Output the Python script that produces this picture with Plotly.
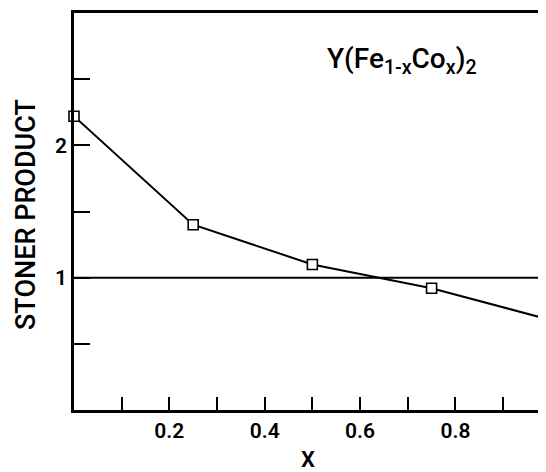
import plotly.graph_objects as go

x_vals = [0.0, 0.25, 0.5, 0.75, 1.0]
stoner = [2.22, 1.40, 1.10, 0.92, 0.68]
ref_level = [1.0, 1.0]
ref_x = [0.0, 1.0]
x_tickvals = [0.1, 0.2, 0.3, 0.4, 0.5, 0.6, 0.7, 0.8, 0.9]
x_ticktext = ["", "0.2", "", "0.4", "", "0.6", "", "0.8", ""]
y_tickvals = [0.5, 1, 1.5, 2, 2.5]
y_ticktext = ["", "1", "", "2", ""]

font_fam = "Roboto, DejaVu Sans, sans-serif"

# plot area in page pixels (page body adds an 8px offset)
PL, PT, PR, PB = 74, 13, 546, 410
PW, PH = PR - PL, PB - PT

fig = go.Figure()
fig.add_trace(go.Scatter(x=ref_x, y=ref_level, mode="lines",
                         line=dict(color="black", width=2), showlegend=False,
                         hoverinfo="skip"))
fig.add_trace(go.Scatter(x=x_vals, y=stoner, mode="lines+markers",
                         line=dict(color="black", width=2),
                         marker=dict(symbol="square", size=10, color="white",
                                     line=dict(color="black", width=1.6)),
                         cliponaxis=False, showlegend=False))


def px(xp):
    return (xp - PL) / PW


def py(yp):
    return 1 - (yp - PT) / PH


fig.update_layout(
    width=538, height=464,
    margin=dict(l=PL - 8, r=0, t=PT - 8, b=472 - PB, autoexpand=False),
    paper_bgcolor="white", plot_bgcolor="white",
    font=dict(family=font_fam, color="black"),
    xaxis=dict(range=[0, 0.99], showgrid=False, zeroline=False, automargin=False,
               showline=True, linecolor="black", linewidth=2.5, mirror=True,
               ticks="inside", ticklen=13, tickwidth=2, tickcolor="black",
               tickvals=x_tickvals, ticktext=x_ticktext,
               tickfont=dict(size=21, weight=600)),
    yaxis=dict(range=[0, 3.0], showgrid=False, zeroline=False, automargin=False,
               showline=True, linecolor="black", linewidth=2.5,
               ticks="inside", ticklen=16, tickwidth=2, tickcolor="black",
               tickvals=y_tickvals, ticktext=y_ticktext,
               tickfont=dict(size=21, weight=600)),
    annotations=[
        dict(text="Y(Fe<sub>1-x</sub>Co<sub>x</sub>)<sub>2</sub>",
             x=px(325), y=py(60), xref="paper", yref="paper",
             xanchor="left", yanchor="middle", showarrow=False,
             font=dict(size=28, family=font_fam, weight=500)),
        dict(text="STONER PRODUCT", x=px(26), y=py(215), xref="paper", yref="paper",
             xanchor="center", yanchor="middle", textangle=-90, showarrow=False,
             font=dict(size=27, family=font_fam, weight=500)),
        dict(text="X", x=px(308), y=py(459), xref="paper", yref="paper",
             xanchor="center", yanchor="middle", showarrow=False,
             font=dict(size=22, family=font_fam, weight=600)),
    ],
)

fig.write_html("out.html")
